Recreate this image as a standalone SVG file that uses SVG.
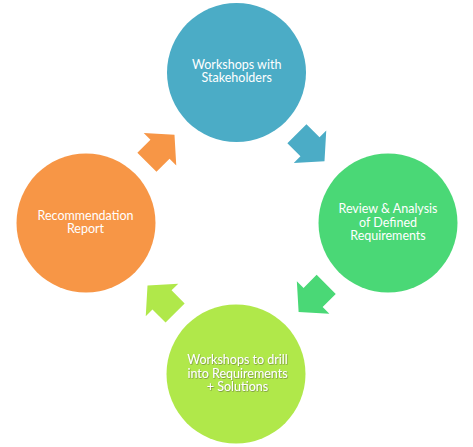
<svg xmlns="http://www.w3.org/2000/svg" width="473" height="447" viewBox="0 0 473 447">
  <defs>
    <style>
      .lbl { font-family: Lato, "Liberation Sans", sans-serif; font-size: 12.5px; fill: #ffffff; text-anchor: middle; }
    </style>
    <polygon id="arr" points="-19.5,-13.5 -1,-13.5 -1,-23 19.5,0 -1,23 -1,13.5 -19.5,13.5"/>
    <filter id="sh" x="-10%" y="-10%" width="120%" height="130%">
      <feDropShadow dx="0.6" dy="0.8" stdDeviation="0.4" flood-color="#6a7a40" flood-opacity="0.8"/>
    </filter>
  </defs>
  <rect width="473" height="447" fill="#ffffff"/>
  <g id="connectors">
    <use href="#arr" fill="#4BACC6" transform="translate(310.7,147.5) rotate(45)"/>
    <use href="#arr" fill="#4AD876" transform="translate(312.4,298.2) rotate(135)"/>
    <use href="#arr" fill="#B0E84A" transform="translate(161.3,299.2) rotate(225)"/>
    <use href="#arr" fill="#F79646" transform="translate(160.7,148.5) rotate(-45)"/>
  </g>
  <g id="node-workshops-stakeholders">
    <circle cx="236.5" cy="72.5" r="69.5" fill="#4BACC6"/>
    <text class="lbl" x="236.7" y="69.3">Workshops with<tspan x="236.7" dy="13">Stakeholders</tspan></text>
  </g>
  <g id="node-review-analysis">
    <circle cx="388" cy="223" r="69.5" fill="#4AD876"/>
    <text class="lbl" x="388" y="213.3">Review &amp; Analysis<tspan x="388" dy="13.5">of Defined</tspan><tspan x="388" dy="13.5">Requirements</tspan></text>
  </g>
  <g id="node-workshops-drill">
    <circle cx="236" cy="374" r="69.5" fill="#B0E84A"/>
    <text class="lbl" x="237.5" y="364.3" filter="url(#sh)">Workshops to drill<tspan x="237.5" dy="13.3">into Requirements</tspan><tspan x="237.5" dy="13.3">+ Solutions</tspan></text>
  </g>
  <g id="node-recommendation">
    <circle cx="86" cy="223" r="69.5" fill="#F79646"/>
    <text class="lbl" x="85.5" y="220">Recommendation<tspan x="85.5" dy="13.3">Report</tspan></text>
  </g>
</svg>
